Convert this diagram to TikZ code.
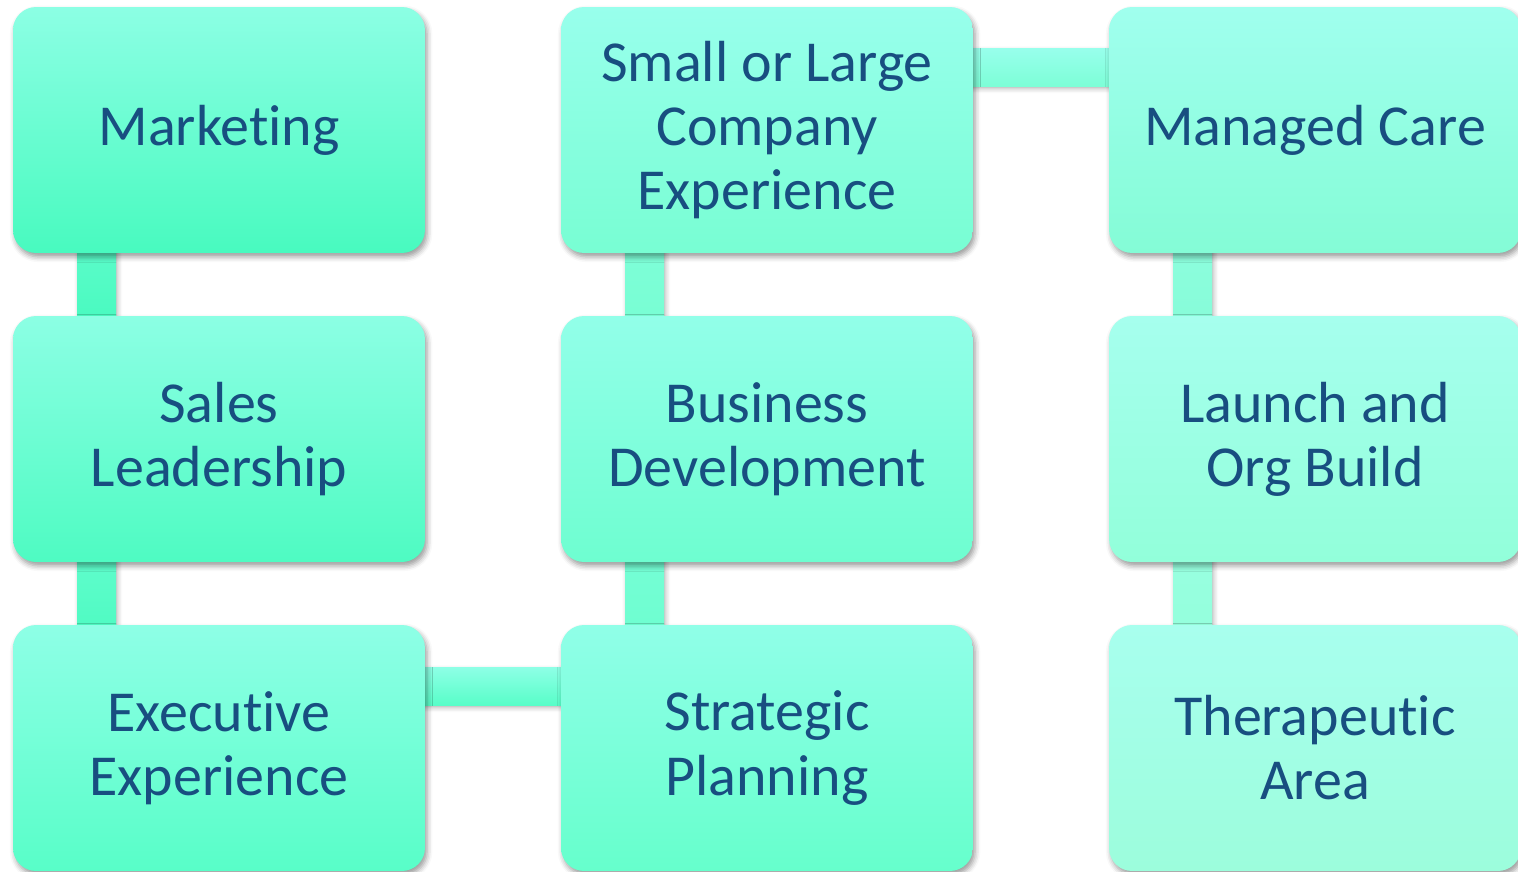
\documentclass[tikz,border=0pt]{standalone}
\usepackage{fontspec}
\setmainfont{Carlito}[RawFeature={-liga;-clig;-calt;-dlig}]
\usetikzlibrary{shadows.blur}
\pgfdeclarelayer{bars}
\pgfsetlayers{bars,main}
% keep t and i as separate glyphs
\newcommand{\tI}{t\kern0pt i}

\definecolor{txt}{RGB}{24,78,128}
% card gradients (top / bottom)
\definecolor{aT}{HTML}{8CFFE4}\definecolor{aB}{HTML}{48FABF}
\definecolor{bT}{HTML}{8CFFE4}\definecolor{bB}{HTML}{4EFBC2}
\definecolor{cT}{HTML}{8EFFE6}\definecolor{cB}{HTML}{58FEC8}
\definecolor{dT}{HTML}{98FFEC}\definecolor{dB}{HTML}{78FED3}
\definecolor{eT}{HTML}{92FFE9}\definecolor{eB}{HTML}{6EFED0}
\definecolor{fT}{HTML}{90FFE8}\definecolor{fB}{HTML}{66FFCC}
\definecolor{gT}{HTML}{A0FFEE}\definecolor{gB}{HTML}{84FCD6}
\definecolor{hT}{HTML}{A6FFEE}\definecolor{hB}{HTML}{92FFDA}
\definecolor{iT}{HTML}{A8FFEE}\definecolor{iB}{HTML}{9CFDDC}

\begin{document}
\begin{tikzpicture}[x=0.02cm,y=-0.02cm,
  card/.style={rounded corners=0.46cm, minimum width=8.24cm, minimum height=4.92cm,
    inner sep=0pt, outer sep=0pt, text=txt, align=center,
    font=\fontsize{33}{36.5}\selectfont,
    blur shadow={shadow xshift=1.2pt, shadow yshift=-2.2pt, shadow blur radius=3pt, shadow opacity=40}},
  bar/.style={blur shadow={shadow xshift=1pt, shadow yshift=-1.5pt, shadow blur radius=2.5pt, shadow opacity=30}}]

\useasboundingbox (0,0) rectangle (1518,872);

% cards
\node[card, top color=aT, bottom color=aB] (mkt)   at (219,130) {Marke\tI ng};
\node[card, top color=bT, bottom color=bB] (sales) at (219,439) {Sales\\Leadership};
\node[card, top color=cT, bottom color=cB] (exec)  at (219,748) {Execu\tI ve\\Experience};
\node[card, top color=dT, bottom color=dB] (size)  at (767,130) {Small or Large\\Company\\Experience};
\node[card, top color=eT, bottom color=eB] (bizdev) at (767,439) {Business\\Development};
\node[card, top color=fT, bottom color=fB] (strat) at (767,748) {Strategic\\Planning};
\node[card, top color=gT, bottom color=gB] (mcare) at (1315,130) {Managed Care};
\node[card, top color=hT, bottom color=hB] (launch) at (1315,439) {Launch and\\Org Build};
\node[card, top color=iT, bottom color=iB] (thera) at (1315,748) {Therapeu\tI c\\Area};

% connecting bars behind the cards
\begin{pgfonlayer}{bars}
  \shade[bar, top color=aB!70!aT, bottom color=aB]
    ([xshift=1.28cm,yshift=0.2cm]mkt.south west) rectangle ([xshift=2.06cm,yshift=-0.2cm]sales.north west);
  \shade[bar, top color=bB!70!bT, bottom color=bB]
    ([xshift=1.28cm,yshift=0.2cm]sales.south west) rectangle ([xshift=2.06cm,yshift=-0.2cm]exec.north west);
  \shade[bar, top color=dB!80!dT, bottom color=dB]
    ([xshift=1.28cm,yshift=0.2cm]size.south west) rectangle ([xshift=2.06cm,yshift=-0.2cm]bizdev.north west);
  \shade[bar, top color=eB!80!eT, bottom color=eB]
    ([xshift=1.28cm,yshift=0.2cm]bizdev.south west) rectangle ([xshift=2.06cm,yshift=-0.2cm]strat.north west);
  \shade[bar, top color=gB!70!gT, bottom color=gB!90!gT]
    ([xshift=1.28cm,yshift=0.2cm]mcare.south west) rectangle ([xshift=2.06cm,yshift=-0.2cm]launch.north west);
  \shade[bar, top color=hB!70!hT, bottom color=hB!90!hT]
    ([xshift=1.28cm,yshift=0.2cm]launch.south west) rectangle ([xshift=2.06cm,yshift=-0.2cm]thera.north west);
  \shade[bar, top color=cT, bottom color=cB]
    ([xshift=-0.2cm,yshift=-0.84cm]exec.north east) rectangle ([xshift=0.2cm,yshift=-1.60cm]strat.north west);
  \shade[bar, top color=dT, bottom color=dB!85!dT]
    ([xshift=-0.2cm,yshift=-0.82cm]size.north east) rectangle ([xshift=0.2cm,yshift=-1.58cm]mcare.north west);
\end{pgfonlayer}
\end{tikzpicture}
\end{document}
